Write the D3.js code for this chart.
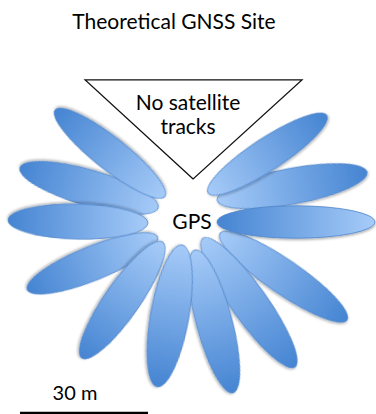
<!DOCTYPE html>
<html>
<head>
<meta charset="utf-8">
<script src="https://cdn.jsdelivr.net/npm/d3@7"></script>
<style>
  body { margin: 0; background: #fff; }
  svg { display: block; }
  text { font-family: Lato, "Open Sans", sans-serif; fill: #000; }
</style>
</head>
<body>
<div id="chart"></div>
<script>
const title = "Theoretical GNSS Site";
const centerLabel = "GPS";
const maskLabel = ["No satellite", "tracks"];
const scaleBarMetres = 30;
const scaleBarLabel = "30 m";

// satellite track petals, in draw order (metres east / north of the antenna)
const petalEast    = [-23.9, -19.0, 23.7, 17.9, 21.7, 13.6,  5.4, -23.1, -16.1,  -5.0, -26.5, 24.6];
const petalNorth   = [  8.0,  16.1,  8.4, 15.9, -12.8, -18.9, -23.3, -9.7, -18.3, -22.0,  0.1,  0.0];
const petalBearing = [286.2, 308.3, 79.4, 56.8, 124.4, 144.5, 165.1, 248.0, 214.9, 190.0, 271.2, 90.0];
const petalLength  = [ 33.8,  32.8, 35.8, 33.3, 36.1, 37.1, 34.7, 33.0, 33.2, 33.8, 32.8, 37.0];
const petalWidth   = [  8.4,   7.6,  8.4,  7.6,  8.0,  8.4,  8.4,  8.0,  8.2,  9.0,  8.2,  7.6];

// no-track sector (metres east / north)
const maskEast  = [0.5, -24.8, 26.0];
const maskNorth = [10.1, 33.3, 33.3];

const width = 376, height = 414;

const svg = d3.select("#chart").append("svg")
    .attr("width", width).attr("height", height);

// metres -> pixels, antenna at (191, 222)
const x = d3.scaleLinear().domain([0, scaleBarMetres]).range([191, 319]);
const y = d3.scaleLinear().domain([0, scaleBarMetres]).range([222, 94]);
const len = d3.scaleLinear().domain([0, scaleBarMetres]).range([0, 128]);

const defs = svg.append("defs");
function grad(id, from, to) {
    const g = defs.append("linearGradient").attr("id", id)
        .attr("x1", 0).attr("x2", 1).attr("y1", 0).attr("y2", 0);
    g.append("stop").attr("offset", "0%").attr("stop-color", from);
    g.append("stop").attr("offset", "100%").attr("stop-color", to);
}
grad("petalIn", "#a6cbf8", "#4584d2");
grad("petalOut", "#4584d2", "#a6cbf8");
const shadow = defs.append("filter").attr("id", "shadow")
    .attr("x", "-20%").attr("y", "-50%").attr("width", "140%").attr("height", "200%");
shadow.append("feDropShadow").attr("dx", 0.5).attr("dy", 1.5)
    .attr("stdDeviation", 1.2).attr("flood-color", "#000").attr("flood-opacity", 0.3);

svg.append("text")
    .attr("x", 174).attr("y", 29)
    .attr("text-anchor", "middle")
    .attr("font-size", 21)
    .text(title);

// the right-hand horizontal petal is shaded the other way round
const flipped = new Set([11]);

const petals = d3.range(petalEast.length).map(i => ({
    e: petalEast[i], n: petalNorth[i], b: petalBearing[i],
    l: petalLength[i], w: petalWidth[i], i: i
}));

svg.append("g").attr("class", "petals")
  .selectAll("g").data(petals).enter().append("g")
    .attr("transform", d => "translate(" + x(d.e) + "," + y(d.n) + ") rotate(" + (d.b - 90) + ")")
  .append("ellipse")
    .attr("rx", d => len(d.l) / 2)
    .attr("ry", d => len(d.w) / 2)
    .attr("fill", d => flipped.has(d.i) ? "url(#petalOut)" : "url(#petalIn)")
    .attr("stroke", "#4f86cc")
    .attr("stroke-width", 0.8)
    .attr("filter", "url(#shadow)");

// sector with no satellite tracks
svg.append("path")
    .attr("d", d3.line()(maskEast.map((e, i) => [x(e), y(maskNorth[i])])) + "Z")
    .attr("fill", "#fff")
    .attr("stroke", "#111")
    .attr("stroke-width", 1.3);

svg.append("g").selectAll("text").data(maskLabel).enter().append("text")
    .attr("x", 188)
    .attr("y", (d, i) => 110 + i * 24)
    .attr("text-anchor", "middle")
    .attr("font-size", 21)
    .text(d => d);

svg.append("text")
    .attr("x", 192).attr("y", 229)
    .attr("text-anchor", "middle")
    .attr("font-size", 21)
    .text(centerLabel);

// scale bar
svg.append("line")
    .attr("x1", 20).attr("x2", 20 + len(scaleBarMetres))
    .attr("y1", 413).attr("y2", 413)
    .attr("stroke", "#000")
    .attr("stroke-width", 2.5);

svg.append("text")
    .attr("x", 75).attr("y", 400)
    .attr("text-anchor", "middle")
    .attr("font-size", 20)
    .text(scaleBarLabel);
</script>
</body>
</html>
